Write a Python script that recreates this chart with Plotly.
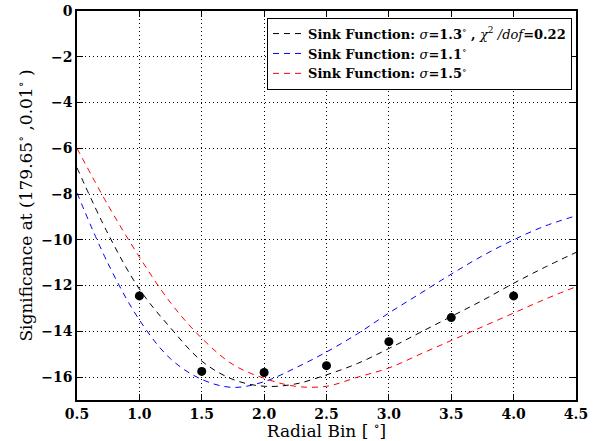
import plotly.graph_objects as go

# Measured significance per radial bin
bins = [1.0, 1.5, 2.0, 2.5, 3.0, 3.5, 4.0]
significance = [-12.45, -15.75, -15.8, -15.5, -14.45, -13.4, -12.45]

# Sink-function model curves sampled along the radial axis
model_x = [0.5, 0.75, 1.0, 1.25, 1.5, 1.75, 2.0, 2.25, 2.5, 2.75,
           3.0, 3.25, 3.5, 3.75, 4.0, 4.25, 4.5]
sink_13 = [-6.85, -9.75, -12.15, -13.85, -15.3, -16.1, -16.4, -16.3, -15.9, -15.4,
           -14.75, -14.05, -13.35, -12.65, -11.9, -11.2, -10.55]
sink_11 = [-7.95, -11.05, -13.5, -15.2, -16.1, -16.45, -16.2, -15.6, -14.9, -14.1,
           -13.2, -12.35, -11.5, -10.7, -10.0, -9.4, -8.95]
sink_15 = [-6.0, -8.5, -10.75, -12.75, -14.3, -15.45, -16.05, -16.4, -16.4, -16.0,
           -15.6, -15.0, -14.4, -13.8, -13.2, -12.6, -12.05]

x_ticks = [0.5, 1.0, 1.5, 2.0, 2.5, 3.0, 3.5, 4.0, 4.5]
y_ticks = [0, -2, -4, -6, -8, -10, -12, -14, -16]

serif = "DejaVu Serif"

fig = go.Figure()

curves = [
    (sink_13, "black",
     "<b>Sink Function: </b><i>σ</i><b>=1.3</b><sup>∘</sup><b> , </b><i>χ</i><sup>2</sup><i> /dof</i><b>=0.22</b>"),
    (sink_11, "blue", "<b>Sink Function: </b><i>σ</i><b>=1.1</b><sup>∘</sup>"),
    (sink_15, "red", "<b>Sink Function: </b><i>σ</i><b>=1.5</b><sup>∘</sup>"),
]
for i, (ys, color, label) in enumerate(curves):
    fig.add_trace(go.Scatter(
        x=model_x, y=ys, mode="lines", name=label, legendgroup=f"g{i}",
        line=dict(color=color, width=1, dash="6px,5px", shape="spline", smoothing=1.0),
    ))

fig.add_trace(go.Scatter(
    x=bins, y=significance, mode="markers", showlegend=False,
    marker=dict(color="black", size=9),
))

axis_common = dict(
    showline=True, linecolor="black", linewidth=1.5, mirror="ticks",
    ticks="inside", ticklen=6, tickcolor="black", tickwidth=1,
    showgrid=True, gridcolor="black", griddash="1px,3px", gridwidth=1,
    zeroline=False, automargin=False,
    tickfont=dict(family=serif, size=14, color="black"),
)

fig.update_xaxes(
    range=[0.5, 4.5], tickvals=x_ticks, ticktext=[f"<b>{v:.1f}</b>" for v in x_ticks],
    title=dict(text="Radial Bin [ <sup>∘</sup>]", font=dict(family=serif, size=17, color="black"),
               standoff=2),
    **axis_common,
)
fig.update_yaxes(
    range=[-17, 0], tickvals=y_ticks,
    ticktext=["<b>" + str(v).replace("-", "−") + "</b>" for v in y_ticks],
    title=dict(text="Significance at (179.65<sup>∘</sup> ,0.01<sup>∘</sup> )",
               font=dict(family=serif, size=17, color="black"), standoff=4),
    **axis_common,
)

fig.update_layout(
    width=598, height=441,
    margin=dict(l=77, r=22, t=11, b=41),
    paper_bgcolor="white", plot_bgcolor="white",
    showlegend=True,
    legend=dict(
        x=0.992, y=0.983, xanchor="right", yanchor="top",
        bgcolor="white", bordercolor="black", borderwidth=1,
        font=dict(family=serif, size=13, color="black"),
        tracegroupgap=0, itemwidth=30,
    ),
)

fig.write_html("out.html")
